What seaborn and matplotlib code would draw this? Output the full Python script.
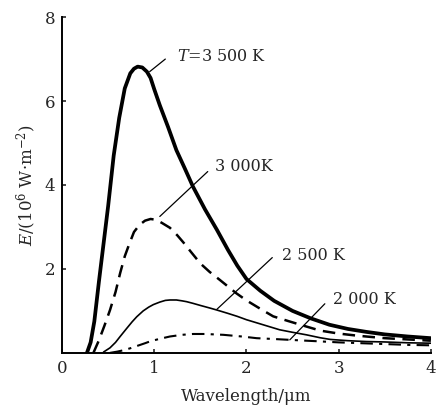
import matplotlib
matplotlib.use("Agg")
import matplotlib.pyplot as plt
import seaborn as sns

# curves (wavelength in um, E in 10^6 W/m^2)
x_3500 = [0.27, 0.31, 0.35, 0.40, 0.45, 0.50, 0.56, 0.62, 0.68, 0.74, 0.78, 0.82, 0.87,
          0.92, 0.96, 1.00, 1.06, 1.15, 1.24, 1.33, 1.42, 1.55, 1.68, 1.80, 1.90, 2.00,
          2.15, 2.30, 2.50, 2.70, 2.90, 3.10, 3.30, 3.50, 3.75, 4.00]
y_3500 = [0.00, 0.25, 0.75, 1.70, 2.60, 3.50, 4.70, 5.60, 6.30, 6.66, 6.77, 6.82, 6.80,
          6.70, 6.55, 6.28, 5.90, 5.38, 4.83, 4.40, 3.96, 3.42, 2.93, 2.45, 2.08, 1.76,
          1.48, 1.24, 1.00, 0.82, 0.67, 0.57, 0.50, 0.44, 0.39, 0.35]

x_3000 = [0.34, 0.40, 0.46, 0.52, 0.58, 0.63, 0.68, 0.73, 0.78, 0.84, 0.90, 0.96, 1.02,
          1.08, 1.17, 1.25, 1.32, 1.40, 1.50, 1.60, 1.71, 1.80, 1.89, 2.00, 2.15, 2.29,
          2.45, 2.60, 2.80, 3.00, 3.20, 3.50, 3.75, 4.00]
y_3000 = [0.00, 0.30, 0.65, 1.02, 1.45, 1.90, 2.30, 2.60, 2.88, 3.05, 3.15, 3.19, 3.17,
          3.10, 2.98, 2.80, 2.62, 2.40, 2.13, 1.93, 1.74, 1.58, 1.42, 1.25, 1.05, 0.87,
          0.76, 0.66, 0.53, 0.46, 0.41, 0.35, 0.32, 0.29]

x_2500 = [0.45, 0.52, 0.58, 0.63, 0.70, 0.76, 0.81, 0.88, 0.94, 0.99, 1.06, 1.12, 1.17,
          1.24, 1.30, 1.35, 1.42, 1.50, 1.60, 1.68, 1.80, 1.90, 2.00, 2.15, 2.36, 2.50,
          2.65, 2.80, 2.91, 3.10, 3.30, 3.50, 3.75, 4.00]
y_2500 = [0.02, 0.12, 0.25, 0.39, 0.58, 0.74, 0.86, 1.00, 1.09, 1.15, 1.21, 1.25, 1.26,
          1.26, 1.24, 1.22, 1.18, 1.13, 1.07, 1.02, 0.94, 0.87, 0.79, 0.69, 0.55, 0.49,
          0.43, 0.36, 0.32, 0.29, 0.27, 0.26, 0.24, 0.23]

x_2000 = [0.52, 0.60, 0.68, 0.74, 0.82, 0.90, 0.95, 1.05, 1.17, 1.30, 1.42, 1.55, 1.75,
          1.95, 2.11, 2.30, 2.47, 2.65, 2.83, 3.00, 3.25, 3.50, 3.75, 4.00]
y_2000 = [0.00, 0.03, 0.07, 0.11, 0.17, 0.23, 0.27, 0.33, 0.39, 0.43, 0.45, 0.45, 0.43,
          0.39, 0.35, 0.33, 0.31, 0.29, 0.27, 0.25, 0.23, 0.21, 0.19, 0.18]

# labels and their leader lines (curve point -> label end)
labels = ["$T$=3 500 K", "3 000K", "2 500 K", "2 000 K"]
label_x = [1.25, 1.66, 2.38, 2.94]
label_y = [7.05, 4.45, 2.33, 1.26]
leader_from = [(0.95, 6.70), (1.06, 3.25), (1.68, 1.04), (2.47, 0.31)]
leader_to = [(1.12, 7.00), (1.58, 4.32), (2.28, 2.27), (2.85, 1.17)]

x_ticks = [0, 1, 2, 3, 4]
y_ticks = [2, 4, 6, 8]

sns.set_style("ticks")
plt.rcParams["font.family"] = ["DejaVu Serif"]
plt.rcParams["mathtext.fontset"] = "dejavuserif"

fig = plt.figure(figsize=(4.37, 4.07), dpi=100)
ax = fig.add_axes([0.142, 0.133, 0.844, 0.825])

sns.lineplot(x=x_3500, y=y_3500, ax=ax, color="black", lw=2.7, errorbar=None)
sns.lineplot(x=x_3000, y=y_3000, ax=ax, color="black", lw=1.8, errorbar=None,
             linestyle=(0, (5, 3)))
sns.lineplot(x=x_2500, y=y_2500, ax=ax, color="black", lw=1.2, errorbar=None)
sns.lineplot(x=x_2000, y=y_2000, ax=ax, color="black", lw=1.5, errorbar=None,
             linestyle=(0, (6, 3, 1.5, 3)))

for txt, tx, ty, p0, p1 in zip(labels, label_x, label_y, leader_from, leader_to):
    ax.annotate("", xy=p0, xytext=p1,
                arrowprops=dict(arrowstyle="-", color="black", lw=0.9,
                                shrinkA=0, shrinkB=0))
    ax.text(tx, ty, txt, fontsize=11.5, va="center", ha="left")

ax.set_xlim(0, 4)
ax.set_ylim(0, 8)
ax.set_xticks(x_ticks)
ax.set_yticks(y_ticks)
ax.tick_params(direction="in", length=3, width=1.2, labelsize=12, pad=5)
ax.set_xlabel("Wavelength/μm", fontsize=12, labelpad=8)
ax.set_ylabel("$E$/(10$^6$ W·m$^{-2}$)", fontsize=12, labelpad=4)

sns.despine(ax=ax)
for s in ["left", "bottom"]:
    ax.spines[s].set_linewidth(1.4)
    ax.spines[s].set_color("black")

fig.savefig("out.png", dpi=100)
